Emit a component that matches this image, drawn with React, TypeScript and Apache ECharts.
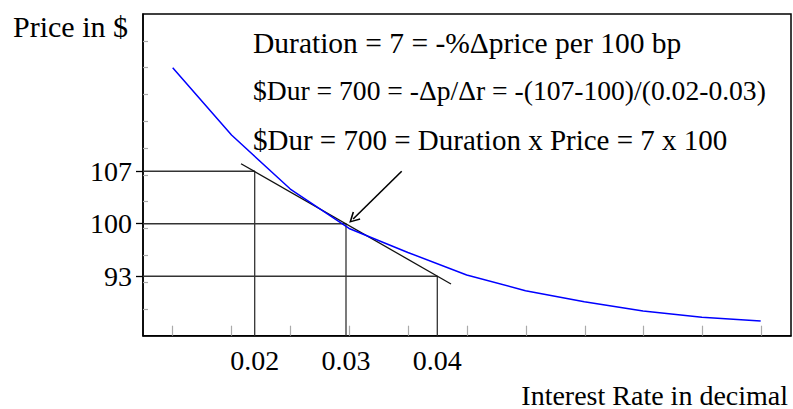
import React, { useEffect, useRef } from "react";
import * as echarts from "echarts";

// Blue price curve (interest rate in decimal -> price)
const rates = [0.01102, 0.01746, 0.0239, 0.03034, 0.03678, 0.04322, 0.04966, 0.0561, 0.06254, 0.06898, 0.07542];
const prices = [120.81, 111.83, 104.63, 99.37, 96.17, 93.17, 91.07, 89.61, 88.37, 87.53, 87.03];

// Marked points (rate, price)
const markedRates = [0.02, 0.03, 0.04];
const markedPrices = [107, 100, 93];

// Tangent line end points
const tangentRates = [0.0185, 0.0415];
const tangentPrices = [108.0, 91.97];

// Arrow pointing at the tangency point
const arrowFrom = [0.0361, 107.0];
const arrowTo = [0.03078, 100.63];

// Minor decorative ticks (in tick units)
const xMinorTicks = [0.5, 1.5, 2.5, 3.5, 4.5, 5.5, 6.5, 7.5, 8.5, 9.5, 10.5];
const yMinorTicks = [1, 2, 3, 4, 5, 6, 7, 8, 9, 10, 11];

// Texts
const yTitle = "Price in $";
const xTitle = "Interest Rate in decimal";
const notes = [
  "Duration = 7 = -%\u0394price per 100 bp",
  "$Dur = 700 = -\u0394p/\u0394r = -(107-100)/(0.02-0.03)",
  "$Dur = 700 = Duration x Price = 7 x 100",
];

const FONT = "'Liberation Serif', 'Times New Roman', serif";

export default function App() {
  const ref = useRef<HTMLDivElement>(null);

  useEffect(() => {
    if (!ref.current) return;
    const chart = echarts.init(ref.current, undefined, { renderer: "svg" });

    const xMin = 0.007766;
    const xMax = 0.07874;
    const yMin = 85.07;
    const yMax = 127.97;

    const guideSeries = markedRates.map((r, i) => ({
      type: "line",
      data: [
        [xMin, markedPrices[i]],
        [r, markedPrices[i]],
        [r, yMin],
      ],
      symbol: "none",
      silent: true,
      z: 3,
      lineStyle: { color: "#333", width: 1.3 },
    }));

    const noteSizes = [29.5, 27.6, 29];
    const noteY = [43, 90.5, 139.5];

    const option: any = {
      animation: false,
      backgroundColor: "#fff",
      grid: {
        left: 143,
        top: 14,
        right: 2,
        bottom: 73.3,
        show: true,
        borderColor: "#000",
        borderWidth: 1.5,
        backgroundColor: "transparent",
      },
      xAxis: [
        {
          type: "value",
          min: xMin,
          max: xMax,
          axisLine: { show: true, lineStyle: { color: "#000", width: 1.5 } },
          axisTick: { show: false },
          splitLine: { show: false },
          axisLabel: {
            customValues: markedRates,
            formatter: (v: number) => v.toFixed(2),
            fontFamily: FONT,
            fontSize: 28,
            color: "#000",
            margin: 11,
          },
        },
        {
          type: "value",
          min: 0,
          max: 11,
          position: "bottom",
          axisLine: { show: false },
          axisLabel: { show: false },
          splitLine: { show: false },
          axisTick: {
            show: true,
            inside: true,
            length: 10,
            customValues: xMinorTicks,
            lineStyle: { color: "#aaa", width: 1.2 },
          },
        },
      ],
      yAxis: [
        {
          type: "value",
          min: yMin,
          max: yMax,
          axisLine: { show: true, lineStyle: { color: "#000", width: 1.5 } },
          axisTick: {
            show: true,
            length: 7,
            customValues: markedPrices,
            lineStyle: { color: "#000", width: 1.3 },
          },
          splitLine: { show: false },
          axisLabel: {
            customValues: markedPrices,
            formatter: (v: number) => String(v),
            fontFamily: FONT,
            fontSize: 28,
            color: "#000",
            margin: 11,
          },
        },
        {
          type: "value",
          min: 0,
          max: 12,
          position: "left",
          axisLine: { show: false },
          axisLabel: { show: false },
          splitLine: { show: false },
          axisTick: {
            show: true,
            inside: true,
            length: 5,
            customValues: yMinorTicks,
            lineStyle: { color: "#aaa", width: 1.2 },
          },
        },
      ],
      series: [
        ...guideSeries,
        {
          type: "line",
          data: tangentRates.map((r, i) => [r, tangentPrices[i]]),
          symbol: "none",
          silent: true,
          z: 4,
          lineStyle: { color: "#111", width: 1.3 },
          markLine: {
            silent: true,
            animation: false,
            symbol: ["none", "path://M5,0 L10,9 L8.8,9.8 L5,2.8 L1.2,9.8 L0,9 Z"],
            symbolSize: [11, 11],
            label: { show: false },
            lineStyle: { color: "#000", width: 1.6, type: "solid" },
            itemStyle: { color: "#000" },
            data: [[{ coord: arrowFrom }, { coord: arrowTo }]],
          },
        },
        {
          type: "line",
          data: rates.map((r, i) => [r, prices[i]]),
          symbol: "none",
          silent: true,
          z: 5,
          lineStyle: { color: "#0000ff", width: 1.5 },
        },
      ],
      graphic: [
        {
          type: "text",
          x: 13,
          y: 26,
          style: { text: yTitle, fontFamily: FONT, fontSize: 30, fill: "#000", align: "left", verticalAlign: "middle" },
        },
        ...notes.map((t, i) => ({
          type: "text",
          x: 253,
          y: noteY[i],
          style: {
            text: t,
            fontFamily: FONT,
            fontSize: noteSizes[i],
            fill: "#000",
            align: "left",
            verticalAlign: "middle",
          },
        })),
        {
          type: "text",
          x: 788,
          y: 395,
          style: {
            text: xTitle,
            fontFamily: FONT,
            fontSize: 28,
            lineHeight: 22,
            fill: "#000",
            align: "right",
            verticalAlign: "middle",
          },
        },
      ],
    };

    chart.setOption(option);
    return () => chart.dispose();
  }, []);

  return (
    <div
      ref={ref}
      style={{ position: "fixed", left: 0, top: 0, width: 793, height: 409, background: "#fff" }}
    />
  );
}
